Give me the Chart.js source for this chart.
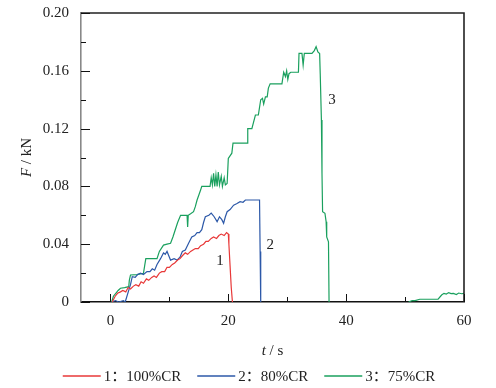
<!DOCTYPE html>
<html>
<head>
<meta charset="utf-8">
<script src="https://cdn.jsdelivr.net/npm/chart.js@4.4.1/dist/chart.umd.min.js"></script>
<style>
  html, body { margin: 0; padding: 0; background: #fff; }
  canvas { display: block; }
</style>
</head>
<body>
<canvas id="forceChart" width="496" height="388"></canvas>
<script>
"strict";

const seriesNames = ["1：100%CR", "2：80%CR", "3：75%CR"];
const seriesColors = ["rgb(232,56,56)", "rgb(44,88,168)", "rgb(26,160,94)"];

// series 1 (100%CR)
const t1 = [0.3, 0.8, 1.2, 1.7, 2.1, 2.6, 3.0, 3.4, 3.9, 4.3,
  4.8, 5.2, 5.6, 6.1, 6.5, 7.0, 7.4, 7.8, 8.3, 8.7,
  9.2, 9.6, 10.0, 10.5, 10.9, 11.4, 11.8, 12.2, 12.7, 13.1,
  13.6, 14.0, 14.4, 14.9, 15.3, 15.8, 16.2, 16.6, 17.1, 17.5,
  18.0, 18.4, 18.8, 19.3, 19.7, 20.0, 20.1, 20.3, 20.5, 20.7];
const f1 = [0, 0.004, 0.006, 0.007, 0.008, 0.007, 0.010, 0.009, 0.011, 0.012,
  0.011, 0.014, 0.013, 0.016, 0.015, 0.017, 0.018, 0.017, 0.020, 0.021,
  0.021, 0.024, 0.024, 0.026, 0.027, 0.029, 0.030, 0.032, 0.034, 0.033,
  0.035, 0.036, 0.037, 0.037, 0.039, 0.040, 0.042, 0.042, 0.044, 0.045,
  0.044, 0.046, 0.047, 0.046, 0.048, 0.047, 0.040, 0.025, 0.010, 0];

// series 2 (80%CR)
const t2 = [0.2, 0.85, 1.4, 2.2, 2.5, 3.1, 3.4, 3.7, 4.2, 4.6,
  5.1, 5.6, 6.2, 6.7, 7.1, 7.5, 7.9, 8.5, 9.0, 9.3,
  9.6, 10.0, 10.2, 10.8, 11.3, 11.8, 12.2, 12.7, 13.3, 13.8,
  14.3, 14.7, 15.1, 15.5, 15.8, 16.1, 16.7, 17.1, 17.6, 18.1,
  18.5, 18.9, 19.2, 19.5, 19.8, 20.3, 20.9, 21.4, 22.0, 22.5,
  22.9, 24.0, 25.3, 25.4, 25.5];
const f2 = [0, 0.001, 0, 0.001, 0, 0.008, 0.012, 0.0175, 0.017, 0.019,
  0.020, 0.019, 0.021, 0.021, 0.023, 0.022, 0.026, 0.030, 0.034, 0.033,
  0.035, 0.031, 0.029, 0.030, 0.029, 0.031, 0.035, 0.036, 0.041, 0.045,
  0.046, 0.048, 0.048, 0.050, 0.055, 0.059, 0.060, 0.0615, 0.059, 0.0556,
  0.059, 0.057, 0.0545, 0.059, 0.0625, 0.064, 0.067, 0.068, 0.0694, 0.069,
  0.0706, 0.0706, 0.0706, 0.035, 0];

// series 3 (75%CR), null = no visible trace
const t3 = [0.2, 0.5, 0.9, 1.3, 1.7, 2.4, 3.1, 3.2, 3.4, 4.5,
  5.6, 5.8, 6.0, 7.0, 7.9, 8.3, 9.0, 9.6, 10.2, 10.6,
  11.0, 11.4, 11.9, 12.5, 13.0, 13.1, 13.2, 13.6, 14.1, 14.4,
  14.7, 15.0, 15.3, 15.5, 16.2, 16.9, 17.1, 17.3, 17.5, 17.7,
  17.9, 18.1, 18.3, 18.5, 18.8, 19.0, 19.3, 19.5, 19.8, 20.0,
  20.6, 20.8, 22.0, 23.2, 23.3, 24.0, 24.6, 25.1, 25.5, 25.8,
  26.0, 26.3, 26.6, 26.8, 27.1, 28.0, 29.1, 29.4, 29.7, 29.9,
  30.1, 30.3, 30.6, 31.2, 31.9, 32.0, 32.5, 32.7, 32.9, 33.5,
  34.2, 34.6, 34.9, 35.2, 35.5, 35.6, 35.8, 35.9, 36.0, 36.4,
  36.6, 36.7, 37.0, 37.1, 44.0, 50.6, 51.2, 51.7, 52.5, 54.0,
  55.6, 56.2, 56.6, 57.0, 57.4, 57.8, 58.2, 58.7, 59.1, 59.6,
  60.2];
const f3 = [0, 0.004, 0.006, 0.008, 0.0095, 0.010, 0.0106, 0.015, 0.0187, 0.019,
  0.0199, 0.025, 0.030, 0.030, 0.030, 0.035, 0.0394, 0.040, 0.0406, 0.045,
  0.050, 0.055, 0.060, 0.060, 0.060, 0.052, 0.060, 0.061, 0.0625, 0.066,
  0.0706, 0.074, 0.0775, 0.080, 0.080, 0.080, 0.086, 0.081, 0.089, 0.080,
  0.088, 0.080, 0.090, 0.081, 0.087, 0.080, 0.086, 0.081, 0.082, 0.0994,
  0.103, 0.110, 0.110, 0.110, 0.120, 0.120, 0.1294, 0.1294, 0.140, 0.141,
  0.137, 0.142, 0.142, 0.148, 0.151, 0.151, 0.151, 0.159, 0.156, 0.160,
  0.154, 0.158, 0.159, 0.159, 0.159, 0.172, 0.172, 0.164, 0.172, 0.172,
  0.172, 0.174, 0.1767, 0.173, 0.172, 0.158, 0.126, 0.089, 0.0625, 0.0614,
  0.0556, 0.045, 0.0417, 0, null, 0, 0.001, 0.001, 0.0019, 0.0019,
  0.0019, 0.0048, 0.006, 0.0055, 0.0065, 0.0058, 0.006, 0.0052, 0.0062, 0.0057,
  0.006];

const xTickValues = [0, 10, 20, 30, 40, 50, 60];
const xTickLabels = ["0", "", "20", "", "40", "", "60"];
const yTickValues = [0, 0.02, 0.04, 0.06, 0.08, 0.1, 0.12, 0.14, 0.16, 0.18, 0.2];
const yTickLabels = ["0", "", "0.04", "", "0.08", "", "0.12", "", "0.16", "", "0.20"];

// curve number tags, in data units
const tagText = ["1", "2", "3"];
const tagT = [18.6, 27.1, 37.6];
const tagF = [0.028, 0.0394, 0.14];

const serif = "'Liberation Serif', 'Times New Roman', 'Noto Sans CJK SC', serif";

function toPoints(ts, fs) {
  return ts.map((t, i) => ({ x: t, y: fs[i] }));
}

const allT = [t1, t2, t3];
const allF = [f1, f2, f3];

const datasets = seriesNames.map((name, i) => ({
  label: name,
  data: toPoints(allT[i], allF[i]),
  borderColor: seriesColors[i],
  borderWidth: 1.2,
  pointRadius: 0,
  tension: 0,
  spanGaps: false,
}));

const framePlugin = {
  id: "frame",
  afterDatasetsDraw(chart) {
    const { ctx, chartArea: a, scales } = chart;
    const xs = scales.x;
    const ys = scales.y;
    ctx.save();

    // top and right border
    ctx.strokeStyle = "#222";
    ctx.lineWidth = 1.6;
    ctx.beginPath();
    ctx.moveTo(a.left, a.top);
    ctx.lineTo(a.right, a.top);
    ctx.lineTo(a.right, a.bottom);
    ctx.stroke();

    // inward ticks
    ctx.strokeStyle = "#111";
    ctx.lineWidth = 1;
    xTickValues.forEach((v, i) => {
      const px = Math.round(xs.getPixelForValue(v)) + 0.5;
      const len = xTickLabels[i] ? 8 : 5;
      ctx.beginPath();
      ctx.moveTo(px, a.bottom);
      ctx.lineTo(px, a.bottom - len);
      ctx.stroke();
    });
    yTickValues.forEach((v, i) => {
      const py = Math.round(ys.getPixelForValue(v)) + 0.5;
      const len = yTickLabels[i] ? 9 : 5;
      ctx.beginPath();
      ctx.moveTo(a.left, py);
      ctx.lineTo(a.left + len, py);
      ctx.stroke();
    });

    // curve tags
    ctx.fillStyle = "#222";
    ctx.font = "15px " + serif;
    ctx.textAlign = "center";
    ctx.textBaseline = "middle";
    tagText.forEach((s, i) => {
      ctx.fillText(s, xs.getPixelForValue(tagT[i]), ys.getPixelForValue(tagF[i]));
    });
    ctx.restore();
  },
  afterDraw(chart) {
    const { ctx, chartArea: a } = chart;
    ctx.save();
    ctx.fillStyle = "#222";
    ctx.textBaseline = "middle";

    // x title: italic t / s
    const midX = (a.left + a.right) / 2;
    ctx.font = "italic 15px " + serif;
    const wT = ctx.measureText("t").width;
    ctx.font = "15px " + serif;
    const wRest = ctx.measureText(" / s").width;
    let x0 = midX - (wT + wRest) / 2;
    ctx.textAlign = "left";
    ctx.font = "italic 15px " + serif;
    ctx.fillText("t", x0, 351);
    ctx.font = "15px " + serif;
    ctx.fillText(" / s", x0 + wT, 351);

    // y title: italic F / kN, rotated
    const midY = (a.top + a.bottom) / 2;
    ctx.save();
    ctx.translate(27, midY);
    ctx.rotate(-Math.PI / 2);
    ctx.font = "italic 15px " + serif;
    const wF = ctx.measureText("F").width;
    ctx.font = "15px " + serif;
    const wKn = ctx.measureText(" / kN").width;
    x0 = -(wF + wKn) / 2;
    ctx.font = "italic 15px " + serif;
    ctx.fillText("F", x0, 0);
    ctx.font = "15px " + serif;
    ctx.fillText(" / kN", x0 + wF, 0);
    ctx.restore();

    // legend row
    const lineLen = 38, gap = 3, spacing = 16, ly = 376;
    ctx.font = "15px " + serif;
    const widths = seriesNames.map((s) => lineLen + gap + ctx.measureText(s).width);
    const total = widths.reduce((s, w) => s + w, 0) + spacing * (widths.length - 1);
    let lx = chart.width / 2 - total / 2 + 1;
    seriesNames.forEach((s, i) => {
      ctx.strokeStyle = seriesColors[i];
      ctx.lineWidth = 1.6;
      ctx.beginPath();
      ctx.moveTo(lx, ly);
      ctx.lineTo(lx + lineLen, ly);
      ctx.stroke();
      ctx.fillText(s, lx + lineLen + gap, ly + 1);
      lx += widths[i] + spacing;
    });
    ctx.restore();
  },
};

const ctx = document.getElementById("forceChart").getContext("2d");

new Chart(ctx, {
  type: "line",
  data: { datasets },
  options: {
    responsive: false,
    animation: false,
    devicePixelRatio: 1,
    layout: { padding: { top: 13, right: 32, bottom: 0, left: 0 } },
    plugins: {
      legend: { display: false },
      tooltip: { enabled: false },
    },
    scales: {
      x: {
        type: "linear",
        min: -5,
        max: 60,
        grid: { display: false, drawTicks: false },
        border: { display: true, color: "#111", width: 1.6 },
        afterBuildTicks: (scale) => {
          scale.ticks = xTickValues.map((v) => ({ value: v }));
        },
        afterFit: (scale) => {
          scale.height = 86;
        },
        ticks: {
          autoSkip: false,
          maxRotation: 0,
          padding: 10,
          color: "#222",
          font: { family: serif, size: 15 },
          callback: (v, i) => xTickLabels[i],
        },
      },
      y: {
        type: "linear",
        min: 0,
        max: 0.2,
        grid: { display: false, drawTicks: false },
        border: { display: true, color: "#888", width: 1.6 },
        afterBuildTicks: (scale) => {
          scale.ticks = yTickValues.map((v) => ({ value: v }));
        },
        afterFit: (scale) => {
          scale.width = 81;
          scale.paddingTop = 0;
          scale.paddingBottom = 0;
        },
        ticks: {
          autoSkip: false,
          padding: 12,
          color: "#222",
          font: { family: serif, size: 15 },
          callback: (v, i) => yTickLabels[i],
        },
      },
    },
  },
  plugins: [framePlugin],
});
</script>
</body>
</html>
